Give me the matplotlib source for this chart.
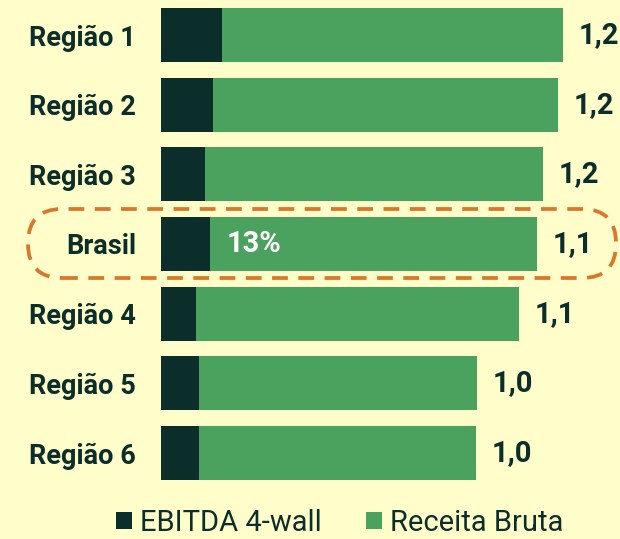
import matplotlib.pyplot as plt
from matplotlib.patches import FancyBboxPatch

plt.rcParams['font.family'] = ['Roboto', 'DejaVu Sans']

regioes = ['Região 1', 'Região 2', 'Região 3', 'Brasil', 'Região 4', 'Região 5', 'Região 6']
receita = [1.218, 1.203, 1.158, 1.139, 1.085, 0.958, 0.955]
ebitda = [0.185, 0.158, 0.133, 0.148, 0.106, 0.114, 0.115]

bg = '#FFFDC9'
dark = '#0C2E2B'
green = '#4BA25E'
orange = '#D9772B'

fig = plt.figure(figsize=(6.2, 5.39), dpi=100, facecolor=bg)
ax = fig.add_axes([161 / 620, 1 - 488 / 539, 459 / 620, 488 / 539])
ax.set_facecolor(bg)

y = list(range(len(regioes)))
resto = [r - e for r, e in zip(receita, ebitda)]
ax.barh(y, ebitda, height=0.775, color=dark, label='EBITDA 4-wall')
ax.barh(y, resto, left=ebitda, height=0.775, color=green, label='Receita Bruta')

for i, tot in enumerate(receita):
    ax.annotate(f'{tot:.1f}'.replace('.', ','), (tot, i), xytext=(11, 0),
                textcoords='offset points', va='center', ha='left',
                fontsize=21, fontweight='bold', color=dark)

b = regioes.index('Brasil')
ax.annotate(f'{ebitda[b] / receita[b]:.0%}', (ebitda[b], b), xytext=(12, 0),
            textcoords='offset points', va='center', ha='left',
            fontsize=21, fontweight='bold', color='white')

ax.set_xlim(0, 459 / 330)
ax.set_ylim(6.502, -0.502)
ax.set_yticks(y)
ax.set_yticklabels(regioes, fontsize=19.5, fontweight='bold', color=dark)
ax.tick_params(axis='y', length=0, pad=18)
ax.set_xticks([])
for s in ax.spines.values():
    s.set_visible(False)

# caixa tracejada em volta do Brasil
box = FancyBboxPatch((28 / 620, 1 - 278 / 539), (616 - 28) / 620, 69 / 539,
                     boxstyle='round,pad=0,rounding_size=0.055',
                     transform=fig.transFigure, fill=False, edgecolor=orange,
                     linewidth=2.7, linestyle=(0, (4.2, 2.8)), mutation_aspect=620 / 539)
fig.patches.append(box)

fig.legend(loc='center', bbox_to_anchor=(0.548, 0.03), ncol=2, frameon=False,
           fontsize=21, handlelength=0.55, handleheight=0.55, handletextpad=0.28,
           columnspacing=1.5, labelcolor=dark, borderpad=0)

fig.savefig('out.png', dpi=100, facecolor=bg)
